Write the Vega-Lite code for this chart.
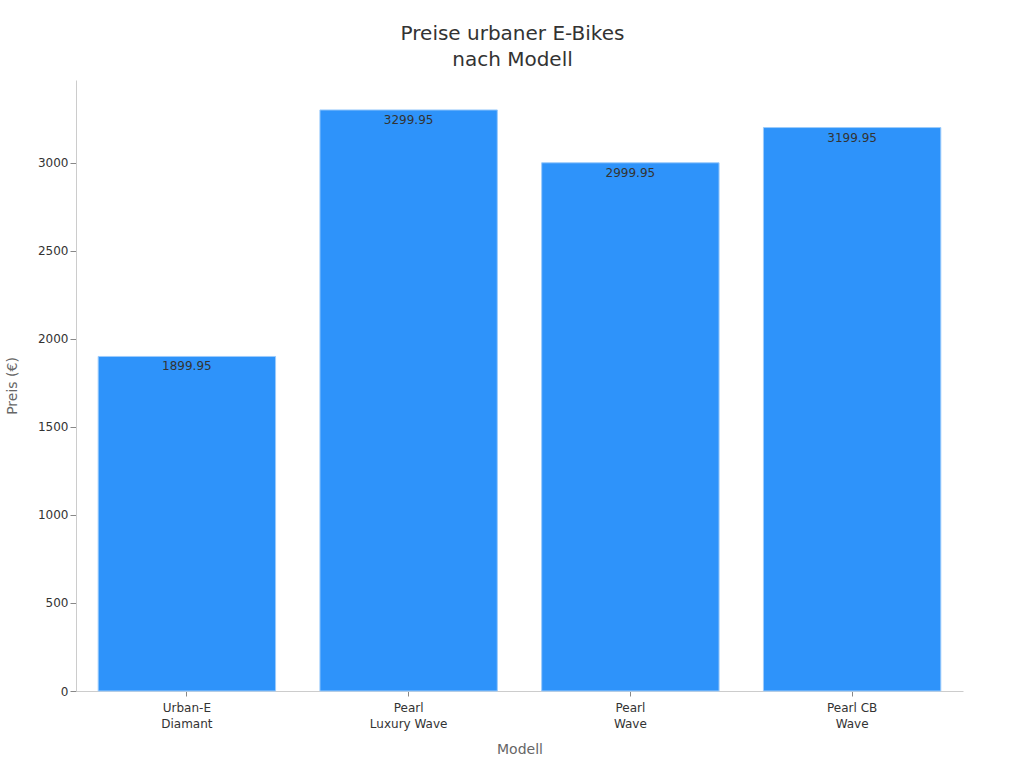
{
  "$schema": "https://vega.github.io/schema/vega-lite/v6.json",
  "autosize": "none",
  "width": 887,
  "height": 611,
  "padding": {"left": 76, "top": 80, "right": 61, "bottom": 77},
  "background": "white",
  "config": {
    "view": {"stroke": null},
    "font": "DejaVu Sans",
    "axis": {
      "domainColor": "#cccccc",
      "tickColor": "#888888",
      "labelColor": "#333333",
      "labelFontSize": 12,
      "titleColor": "#666666",
      "titleFontSize": 14,
      "titleFontWeight": "normal",
      "grid": false
    }
  },
  "title": {
    "text": ["Preise urbaner E-Bikes", "nach Modell"],
    "fontSize": 20,
    "fontWeight": "normal",
    "color": "#333333",
    "anchor": "middle",
    "lineHeight": 26,
    "offset": 10,
    "dx": -7
  },
  "data": {
    "values": [
      {"Modell": "Urban-E Diamant", "Preis": 1899.95},
      {"Modell": "Pearl Luxury Wave", "Preis": 3299.95},
      {"Modell": "Pearl Wave", "Preis": 2999.95},
      {"Modell": "Pearl CB Wave", "Preis": 3199.95}
    ]
  },
  "encoding": {
    "x": {
      "field": "Modell",
      "type": "nominal",
      "sort": null,
      "title": "Modell",
      "scale": {"paddingInner": 0.2, "paddingOuter": 0.1},
      "axis": {
        "labelAngle": 0,
        "labelExpr": "datum.value == 'Urban-E Diamant' ? ['Urban-E', 'Diamant'] : datum.value == 'Pearl Luxury Wave' ? ['Pearl', 'Luxury Wave'] : datum.value == 'Pearl Wave' ? ['Pearl', 'Wave'] : ['Pearl CB', 'Wave']",
        "labelLineHeight": 16,
        "labelPadding": 6,
        "titlePadding": 13,
        "tickSize": 5
      }
    },
    "y": {
      "field": "Preis",
      "type": "quantitative",
      "title": "Preis (€)",
      "scale": {"domain": [0, 3470], "nice": false},
      "axis": {"values": [0, 500, 1000, 1500, 2000, 2500, 3000], "format": "d", "titlePadding": 18, "tickSize": 6}
    }
  },
  "layer": [
    {
      "mark": {"type": "bar", "color": "#2E93FA", "stroke": "#9ccbfb", "strokeWidth": 1}
    },
    {
      "mark": {"type": "text", "baseline": "middle", "dy": 10, "fontSize": 12, "color": "#333333"},
      "encoding": {"text": {"field": "Preis", "type": "quantitative", "format": ".2f"}}
    }
  ]
}
